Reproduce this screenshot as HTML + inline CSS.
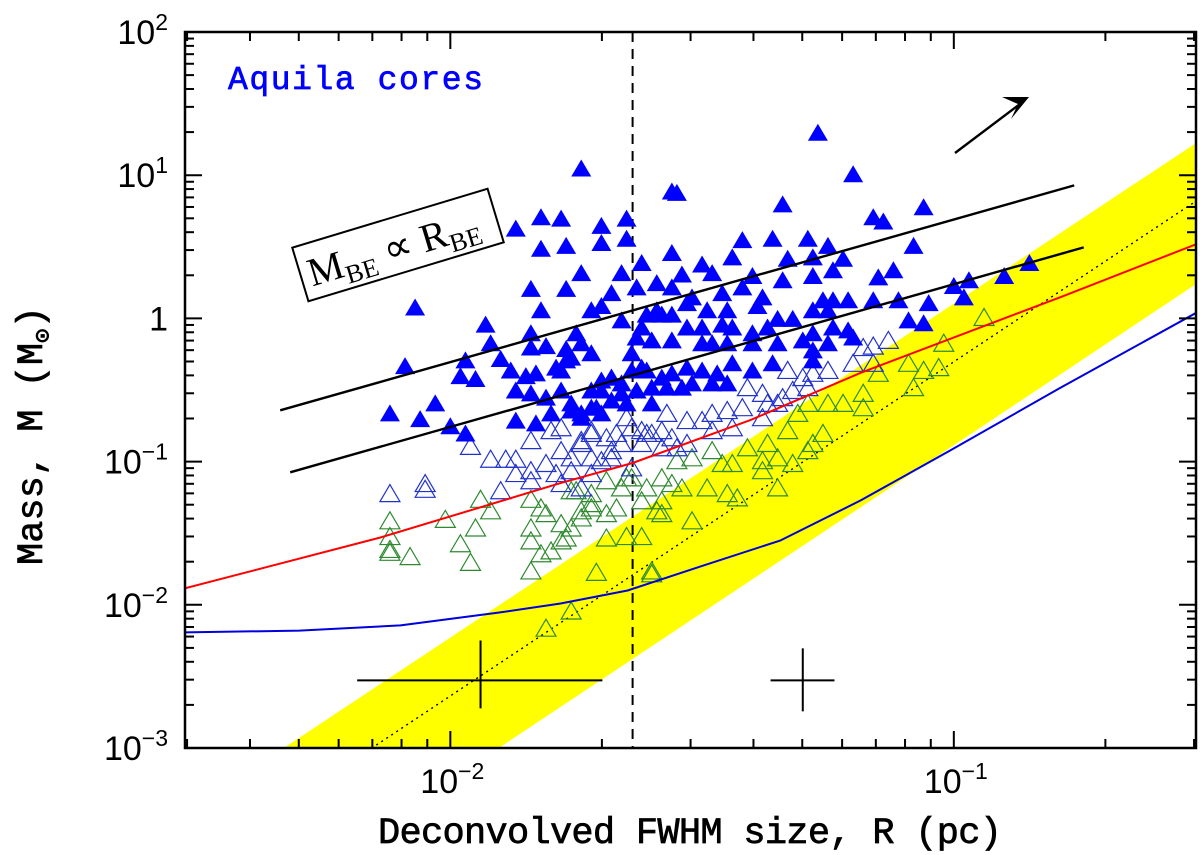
<!DOCTYPE html>
<html><head><meta charset="utf-8"><style>
html,body{margin:0;padding:0;background:#fff;}
svg{display:block;}
</style></head><body>
<svg id="chart" width="1200" height="855" viewBox="0 0 1200 855" xmlns="http://www.w3.org/2000/svg">
<defs><clipPath id="plotclip"><rect x="185" y="32" width="1011" height="716"/></clipPath></defs>
<g id="bg" clip-path="url(#plotclip)"></g>
<g id="marks" clip-path="url(#plotclip)"></g>
<g id="axes"></g>
<text x="228" y="89" fill="#0000ff" stroke="#0000ff" stroke-width="0.7" font-family="Liberation Mono, monospace" font-size="33" textLength="255">Aquila cores</text>
<text x="378" y="843" fill="#000" stroke="#000" stroke-width="0.7" font-family="Liberation Mono, monospace" font-size="37" textLength="624">Deconvolved FWHM size, R (pc)</text>
<text transform="translate(42,565) rotate(-90)" fill="#000" stroke="#000" stroke-width="0.7" font-family="Liberation Mono, 'DejaVu Sans Mono', monospace" font-size="37"><tspan>Mass, M (M</tspan><tspan font-size="24" dy="8">⊙</tspan><tspan dy="-8">)</tspan></text>
<g transform="translate(398,245) rotate(-16.8)">
<rect x="-102" y="-28" width="204" height="56" fill="#fff" stroke="#000" stroke-width="2"/>
<text x="-94" y="15" font-family="Liberation Serif, serif" font-size="40" fill="#000"><tspan>M</tspan><tspan font-size="26" dy="8">BE</tspan><tspan dy="-8"> ∝ R</tspan><tspan font-size="26" dy="8">BE</tspan></text>
</g>
</svg>
<script>
// x axis: log10 R (pc); y axis: log10 M (Msun)
const xDomain = [-2.527, -0.519];
const yDomain = [-3, 2];
const yTickExps = [-3, -2, -1, 0, 1, 2];
const yTickLabels = ["10", "10", "10", "1", "10", "10"];
const yTickSups = ["\u22123", "\u22122", "\u22121", "", "1", "2"];
const xTickExps = [-2, -1];
const xTickSups = ["\u22122", "\u22121"];

// Filled blue triangles (log10 R, log10 M)
const filledLogR = [-1.74,-2.07,-1.87,-1.82,-1.78,-1.70,-1.65,-1.82,-1.77,-1.70,-1.65,-1.56,-1.84,-1.77,-1.74,-1.66,-1.62,-1.70,-1.68,-1.82,-1.93,-1.92,-2.09,-1.97,-1.98,-1.95,-2.12,-2.06,-2.03,-2.00,-1.97,-1.84,-1.84,-1.81,-1.77,-1.75,-1.72,-1.90,-1.88,-1.85,-1.83,-1.79,-1.77,-1.87,-1.84,-1.81,-1.78,-1.72,-1.70,-1.68,-1.87,-1.83,-1.80,-1.76,-1.72,-1.70,-1.74,-1.65,-1.66,-1.62,-1.64,-1.60,-1.58,-1.61,-1.56,-1.62,-1.57,-1.60,-1.27,-1.20,-1.55,-1.34,-1.06,-1.16,-1.14,-1.08,-0.85,-0.90,-0.97,-1.00,-0.98,-1.05,-1.12,-1.15,-1.11,-1.16,-1.09,-1.06,-1.42,-1.36,-1.29,-1.25,-1.56,-1.50,-1.44,-1.33,-1.28,-1.22,-1.24,-1.28,-1.34,-1.40,-1.48,-1.54,-1.59,-1.63,-1.52,-1.46,-1.42,-1.38,-1.39,-1.45,-1.49,-1.53,-1.59,-1.66,-1.56,-1.26,-1.24,-1.21,-1.25,-1.28,-1.32,-1.35,-1.37,-1.40,-1.44,-1.46,-1.50,-1.53,-1.56,-1.63,-1.50,-1.48,-1.45,-1.40,-1.35,-1.30,-1.28,-1.24,-1.21,-1.20,-1.25,-1.28,-1.28,-1.36,-1.40,-1.44,-1.47,-1.50,-1.53,-1.56,-1.58,-1.61,-1.64,-1.52,-1.48,-1.54,-1.45,-1.60,-1.63,-1.66,-1.70,-1.76,-1.71,-1.68,-1.68,-1.74,-1.78,-1.76,-1.74,-1.72];
const filledLogM = [1.05,0.08,0.63,0.71,0.70,0.65,0.70,0.49,0.51,0.53,0.56,0.89,0.21,0.21,0.32,0.32,0.39,0.09,0.18,0.06,-0.04,-0.17,-0.33,-0.29,-0.40,-0.42,-0.66,-0.70,-0.59,-0.75,-0.80,-0.10,-0.20,-0.19,-0.21,-0.10,-0.24,-0.28,-0.36,-0.40,-0.38,-0.34,-0.29,-0.50,-0.52,-0.55,-0.50,-0.50,-0.43,-0.41,-0.71,-0.73,-0.66,-0.64,-0.62,-0.66,-0.69,-0.59,-0.45,-0.34,-0.24,-0.15,0.03,0.03,0.22,-0.06,-0.48,-0.59,1.30,1.01,0.88,0.80,0.78,0.71,0.68,0.51,0.39,0.30,0.27,0.23,0.15,0.11,0.34,0.29,0.13,0.13,-0.01,-0.03,0.55,0.56,0.56,0.51,0.46,0.38,0.43,0.42,0.43,0.42,0.34,0.30,0.27,0.30,0.32,0.31,0.25,0.22,0.15,0.18,0.22,0.15,0.09,0.06,0.06,0.11,0.06,-0.01,0.03,0.13,0.13,0.13,0.06,0.06,0.00,0.00,-0.06,-0.10,-0.06,-0.04,-0.06,-0.06,-0.15,-0.13,-0.17,-0.17,-0.17,-0.17,-0.17,-0.15,-0.10,-0.06,-0.08,-0.13,-0.17,-0.22,-0.29,-0.31,-0.36,-0.31,-0.38,-0.36,-0.34,-0.38,-0.41,-0.36,-0.36,-0.45,-0.45,-0.48,-0.45,-0.48,-0.50,-0.52,-0.50,-0.59,-0.62,-0.41,-0.57,-0.66,-0.36,-0.27,-0.17,0.06];

// Open blue triangles
const openBlueLogR = [-2.12,-2.05,-2.05,-1.96,-1.92,-1.89,-1.87,-1.90,-1.87,-1.84,-1.81,-1.84,-1.78,-1.79,-1.76,-1.72,-1.70,-1.74,-1.67,-1.65,-1.62,-1.60,-1.57,-1.55,-1.68,-1.64,-1.80,-1.72,-1.84,-1.78,-1.74,-1.78,-1.74,-1.72,-1.69,-1.66,-1.64,-1.61,-1.58,-1.56,-1.53,-1.50,-1.48,-1.45,-1.42,-1.41,-1.38,-1.37,-1.34,-1.33,-1.30,-1.28,-1.25,-1.32,-1.29,-1.20,-1.18,-1.16,-1.13,-1.16,-1.76,-1.72,-1.68,-1.62,-1.58,-1.48,-1.53,-1.44,-1.38,-1.35];
const openBlueLogM = [-1.22,-1.15,-1.19,-0.89,-0.98,-0.98,-0.98,-1.20,-1.08,-1.06,-1.01,-0.85,-0.92,-1.08,-1.06,-1.08,-0.99,-0.85,-0.80,-0.69,-0.78,-0.80,-0.66,-0.90,-0.97,-1.04,-0.78,-0.80,-1.13,-1.15,-1.18,-0.76,-0.87,-0.78,-0.83,-0.87,-0.76,-0.80,-0.78,-0.83,-0.71,-0.71,-0.66,-0.64,-0.62,-0.48,-0.52,-0.59,-0.55,-0.36,-0.41,-0.38,-0.36,-0.50,-0.48,-0.31,-0.20,-0.19,-0.15,-0.31,-0.97,-0.97,-0.92,-0.87,-0.90,-0.78,-0.87,-0.76,-0.69,-0.59];

// Open green triangles
const openGreenLogR = [-2.12,-2.12,-2.12,-2.12,-2.08,-2.01,-1.98,-1.95,-1.96,-1.94,-1.92,-1.84,-1.82,-1.81,-1.84,-1.84,-1.78,-1.76,-1.74,-1.72,-1.69,-1.67,-1.78,-1.80,-1.82,-1.84,-1.77,-1.69,-1.65,-1.62,-1.60,-1.64,-1.61,-1.58,-1.62,-1.59,-1.56,-1.66,-1.72,-1.75,-1.76,-1.74,-1.72,-1.60,-1.65,-1.58,-1.58,-1.54,-1.52,-1.49,-1.46,-1.45,-1.43,-1.38,-1.35,-1.37,-1.32,-1.29,-1.26,-1.28,-1.33,-1.31,-1.29,-1.25,-1.22,-1.18,-1.18,-1.15,-1.09,-1.06,-1.08,-1.03,-1.02,-0.94,-1.35,-1.38,-1.41,-1.44,-1.48,-1.52,-1.55,-1.69,-1.81,-1.76,-1.71];
const openGreenLogM = [-1.41,-1.52,-1.61,-1.63,-1.66,-1.40,-1.57,-1.46,-1.70,-1.26,-1.34,-1.26,-1.32,-1.36,-1.46,-1.55,-1.43,-1.46,-1.39,-1.32,-1.36,-1.32,-1.55,-1.62,-1.64,-1.76,-1.53,-1.53,-1.52,-1.52,-1.76,-1.11,-1.18,-1.11,-1.27,-1.34,-1.15,-1.18,-1.22,-1.20,-1.20,-1.34,-1.29,-1.78,-1.11,-1.27,-1.36,-1.18,-1.41,-1.18,-1.01,-1.22,-1.25,-1.06,-0.97,-0.87,-1.01,-0.92,-0.80,-0.87,-0.78,-0.66,-0.59,-0.59,-0.59,-0.62,-0.52,-0.38,-0.31,-0.36,-0.48,-0.34,-0.17,0.01,-1.18,-0.99,-0.90,-1.01,-0.92,-0.97,-0.99,-1.13,-2.16,-2.04,-1.77];

// Curves (log10 R, log10 M)
const bePowerUpperR = [-2.338, -0.761];
const bePowerUpperM = [-0.642, 0.929];
const bePowerLowerR = [-2.318, -0.742];
const bePowerLowerM = [-1.075, 0.496];
const redCurveR = [-2.527, -2.139, -1.781, -1.638, -1.404, -1.185, -0.787, -0.517];
const redCurveM = [-1.885, -1.53, -1.15, -1.01, -0.71, -0.38, 0.15, 0.52];
const blueCurveR = [-2.527, -2.30, -2.099, -1.901, -1.781, -1.648, -1.503, -1.344, -1.185, -1.006, -0.787, -0.517];
const blueCurveM = [-2.193, -2.180, -2.144, -2.053, -1.991, -1.900, -1.732, -1.55, -1.271, -0.92, -0.482, 0.042];
const bandUpperR = [-2.332, -0.517];
const bandUpperM = [-3.003, 1.229];
const bandLowerR = [-1.905, -0.517];
const bandLowerM = [-3.003, 0.244];
const dottedR = [-2.157, -0.517];
const dottedM = [-3.003, 0.824];
const completenessLogR = -1.638;
const errLeftR = [-2.185, -1.940, -1.698];
const errLeftM = [-2.249, -2.528, -2.723];
const errRightR = [-1.364, -1.300, -1.237];
const errRightM = [-2.304, -2.528, -2.744];

const PL = 185, PR = 1196, PT = 32, PB = 748;
function xs(v){ return PL + (v - xDomain[0]) / (xDomain[1] - xDomain[0]) * (PR - PL); }
function ys(v){ return PB - (v - yDomain[0]) / (yDomain[1] - yDomain[0]) * (PB - PT); }
const NS = "http://www.w3.org/2000/svg";
function mk(tag, attrs, parent){
  const e = document.createElementNS(NS, tag);
  for (const k in attrs) e.setAttribute(k, attrs[k]);
  parent.appendChild(e);
  return e;
}
const bg = document.getElementById('bg');
const marks = document.getElementById('marks');
const axes = document.getElementById('axes');

{
  const pts = [[bandUpperR[0],bandUpperM[0]],[bandUpperR[1],bandUpperM[1]],[bandLowerR[1],bandLowerM[1]],[bandLowerR[0],bandLowerM[0]]]
    .map(p => xs(p[0]).toFixed(1)+','+ys(p[1]).toFixed(1)).join(' ');
  const band = mk('polygon', {points: pts, fill: '#ffff00', stroke: 'none'}, bg);
  
  
}
function polyline(R, M, attrs, name){
  const pts = R.map((r,i) => xs(r).toFixed(1)+','+ys(M[i]).toFixed(1)).join(' ');
  const a = Object.assign({points: pts, fill: 'none', 'stroke-linejoin': 'round'}, attrs);
  const e = mk('polyline', a, bg);
  
  
  return e;
}
polyline(dottedR, dottedM, {stroke: '#000', 'stroke-width': 1.4, 'stroke-dasharray': '2,4'}, 'dotted-line');
{
  const d = mk('line', {x1: xs(completenessLogR), x2: xs(completenessLogR), y1: PT, y2: PB, stroke: '#000', 'stroke-width': 2, 'stroke-dasharray': '10,7'}, bg);
  
  
}
function tri(r, m, filled, color, name){
  const cx = xs(r), cy = ys(m);
  const w = 10, h = 17;
  const pts = (cx-w)+','+(cy+h/2)+' '+(cx+w)+','+(cy+h/2)+' '+cx+','+(cy-h/2);
  const e = mk('polygon', filled ? {points: pts, fill: color} : {points: pts, fill: 'none', stroke: color, 'stroke-width': 1.2}, marks);
  
  
}
openGreenLogR.forEach((r,i) => tri(r, openGreenLogM[i], false, '#2f8a2f', 'green-open-core'));
openBlueLogR.forEach((r,i) => tri(r, openBlueLogM[i], false, '#2233cc', 'blue-open-core'));
filledLogR.forEach((r,i) => tri(r, filledLogM[i], true, '#0000ff', 'prestellar-core'));

marks.appendChild(polyline(redCurveR, redCurveM, {stroke: '#ff0000', 'stroke-width': 2}, 'red-curve'));
marks.appendChild(polyline(blueCurveR, blueCurveM, {stroke: '#0000dd', 'stroke-width': 2}, 'blue-curve'));
marks.appendChild(polyline(bePowerUpperR, bePowerUpperM, {stroke: '#000', 'stroke-width': 2.4}, 'be-line-upper'));
marks.appendChild(polyline(bePowerLowerR, bePowerLowerM, {stroke: '#000', 'stroke-width': 2.4}, 'be-line-lower'));

function cross(R, M, name){
  const g = mk('g', {stroke: '#000', 'stroke-width': 2}, marks);
  
  
  mk('line', {x1: xs(R[0]), x2: xs(R[2]), y1: ys(M[1]), y2: ys(M[1])}, g);
  mk('line', {x1: xs(R[1]), x2: xs(R[1]), y1: ys(M[0]), y2: ys(M[2])}, g);
}
cross(errLeftR, errLeftM, 'error-bar-left');
cross(errRightR, errRightM, 'error-bar-right');

{
  const g = mk('g', {}, marks);
  
  
  mk('line', {x1: 955, y1: 153, x2: 1020, y2: 104, stroke: '#000', 'stroke-width': 2.4}, g);
  mk('polygon', {points: '1029,97 1002,97 1018,104 1011,119', fill: '#000'}, g);
}

{
  const f = mk('rect', {x: PL, y: PT, width: PR-PL, height: PB-PT, fill: 'none', stroke: '#000', 'stroke-width': 2.5}, axes);
  
  
}
for (let e = yDomain[0]; e <= yDomain[1]; e++){
  const y = ys(e);
  mk('line', {x1: PL, x2: PL+17, y1: y, y2: y, stroke: '#000', 'stroke-width': 2}, axes);
  mk('line', {x1: PR, x2: PR-17, y1: y, y2: y, stroke: '#000', 'stroke-width': 2}, axes);
  if (e < yDomain[1]) for (let k = 2; k <= 9; k++){
    const yy = ys(e + Math.log10(k));
    mk('line', {x1: PL, x2: PL+9, y1: yy, y2: yy, stroke: '#000', 'stroke-width': 2}, axes);
    mk('line', {x1: PR, x2: PR-9, y1: yy, y2: yy, stroke: '#000', 'stroke-width': 2}, axes);
  }
}
yTickExps.forEach((e, i) => {
  const t = mk('text', {x: 168, y: ys(e) + 12, 'text-anchor': 'end', 'font-family': 'Liberation Sans, sans-serif', 'font-size': 34, fill: '#000'}, axes);
  
  
  const a = mk('tspan', {}, t); a.textContent = yTickLabels[i];
  if (yTickSups[i]) { const b = mk('tspan', {dy: -14, 'font-size': 23}, t); b.textContent = yTickSups[i]; }
});
for (let e = -3; e <= 0; e++){
  for (let k = 1; k <= 9; k++){
    const v = e + Math.log10(k);
    if (v < xDomain[0] || v > xDomain[1]) continue;
    const x = xs(v), L = k === 1 ? 17 : 9;
    mk('line', {x1: x, x2: x, y1: PB, y2: PB-L, stroke: '#000', 'stroke-width': 2}, axes);
    mk('line', {x1: x, x2: x, y1: PT, y2: PT+L, stroke: '#000', 'stroke-width': 2}, axes);
  }
}
xTickExps.forEach((e, i) => {
  const t = mk('text', {x: xs(e) + 2, y: 793, 'text-anchor': 'middle', 'font-family': 'Liberation Sans, sans-serif', 'font-size': 34, fill: '#000'}, axes);
  
  
  const a = mk('tspan', {}, t); a.textContent = '10';
  const b = mk('tspan', {dy: -14, 'font-size': 23}, t); b.textContent = xTickSups[i];
});
</script>
</body></html>
